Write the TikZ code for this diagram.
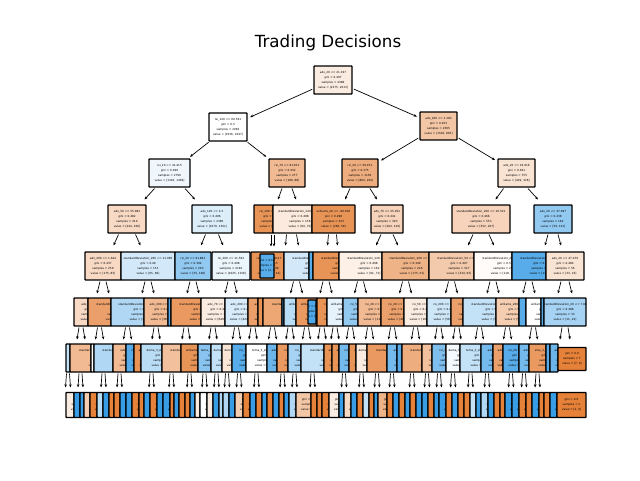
\documentclass[tikz,border=0pt]{standalone}
\usepackage{fontspec}
\setmainfont{DejaVu Sans}
\usetikzlibrary{arrows.meta}
\definecolor{skO}{HTML}{E58139}
\definecolor{skB}{HTML}{399DE5}
\tikzset{
  tbox/.style={draw, line width=1.3pt, rounded corners=0.6pt, inner sep=0pt, outer sep=0pt},
  ttext/.style={font=\fontsize{2.8}{5.1}\selectfont, align=center, inner sep=0pt},
  arr/.style={-{Stealth[length=3.2pt,width=2.6pt]}, line width=0.7pt},
  tarr/.style={arr, shorten <=2pt, shorten >=3.5pt},
}
% \tb{name}{x left}{x right}{y centre}{height}{fill}{half width of full box}{text}
\newcommand\tb[8]{%
  \pgfmathsetmacro\tbw{#3-#2}%
  \pgfmathsetmacro\tbx{(#2+#3)/2}%
  \pgfmathsetmacro\tbc{#2+max((#3-#2)/2,#7)}%
  \node[tbox,fill=#6,minimum width=\tbw pt,minimum height=#5 pt] (#1) at (\tbx,#4) {};
  \begin{scope}
    \clip (#2,#4-#5/2) rectangle (#3,#4+#5/2);
    \node[ttext] at (\tbc,#4) {#8};
  \end{scope}}
% two short arrows below a node: offset from centre, outward drift, length
\newcommand\kids[4]{%
  \draw[arr] ([xshift=-#2 pt, yshift=-1.5pt]#1.south) -- ++(-#3,#4);
  \draw[arr] ([xshift=#2 pt, yshift=-1.5pt]#1.south) -- ++(#3,#4);}
\begin{document}
\begin{tikzpicture}[x=1pt,y=-1pt]
\useasboundingbox (0,0) rectangle (640,480);
\node[font=\fontsize{16.7}{20}\selectfont] (title) at (328,43) {Trading Decisions};

% depth 0-2
\tb{r}{314}{352}{80}{28}{skO!15}{0}{adx\_20 <= 21.197\\gini = 0.497\\samples = 4388\\value = [2375, 2013]}
\tb{a}{209}{247}{127}{28}{white}{0}{rsi\_120 <= 69.591\\gini = 0.5\\samples = 2083\\value = [1036, 1047]}
\tb{b}{420}{457}{126}{28}{skO!45}{0}{adx\_200 <= 1.283\\gini = 0.453\\samples = 2305\\value = [1502, 803]}
\tb{aa}{149}{190}{173}{28}{skB!8}{0}{rsi\_20 <= 41.415\\gini = 0.499\\samples = 2790\\value = [1320, 1469]}
\tb{ab}{269}{305}{173}{28}{skO!55}{0}{rsi\_70 <= 61.452\\gini = 0.432\\samples = 277\\value = [189, 88]}
\tb{ba}{342}{378}{173}{28}{skO!65}{0}{rsi\_20 <= 59.072\\gini = 0.375\\samples = 1156\\value = [864, 292]}
\tb{bb}{498}{535}{173}{28}{skO!22}{0}{adx\_20 <= 19.916\\gini = 0.491\\samples = 755\\value = [429, 326]}

% depth 3
\tb{aaa}{108}{146}{219}{28}{skO!30}{0}{adx\_50 <= 55.983\\gini = 0.482\\samples = 410\\value = [244, 166]}
\tb{aab}{192}{232}{219}{28}{skB!17}{0}{adx\_120 <= 4.5\\gini = 0.496\\samples = 2380\\value = [1079, 1301]}
\tb{aba}{254}{273}{219}{28}{skO!85}{18}{rsi\_100 <= 38.27\\gini = 0.187\\samples = 121\\value = [108, 13]}
\tb{abb}{273}{312}{219}{28}{skO!17}{27}{standardDeviation\_120 <= 2.9\\gini = 0.498\\samples = 156\\value = [84, 72]}
\tb{baa}{312}{355}{219}{28}{skO!85}{0}{williams\_20 <= -96.018\\gini = 0.298\\samples = 325\\value = [266, 59]}
\tb{bab}{371}{403}{219}{28}{skO!35}{0}{adx\_70 <= 25.052\\gini = 0.441\\samples = 393\\value = [264, 129]}
\tb{bba}{452}{510}{219}{28}{skO!35}{0}{standardDeviation\_200 <= 10.521\\gini = 0.466\\samples = 553\\value = [352, 207]}
\tb{bbb}{534}{572}{219}{28}{skB!55}{0}{adx\_20 <= 37.697\\gini = 0.438\\samples = 182\\value = [59, 123]}

\draw[tarr] (r) -- (a);  \draw[tarr] (r) -- (b);
\draw[tarr] (a) -- (aa); \draw[tarr] (a) -- (ab);
\draw[tarr] (b) -- (ba); \draw[tarr] (b) -- (bb);
\draw[arr] ([xshift=-15pt,yshift=-1.5pt]aa.south) -- ++(-10,11);
\draw[arr] ([xshift=15.5pt,yshift=-1.5pt]aa.south) -- ++(10,11);
\draw[arr] ([xshift=-5pt,yshift=-1.5pt]ab.south) -- ++(-4,11);
\draw[arr] ([xshift=5pt,yshift=-1.5pt]ab.south) -- ++(4,11);
\draw[arr] ([xshift=-10pt,yshift=-1.5pt]ba.south) -- ++(-5,11);
\draw[arr] ([xshift=10pt,yshift=-1.5pt]ba.south) -- ++(7,11);
\draw[arr] ([xshift=-13pt,yshift=-1.5pt]bb.south) -- ++(-8,11);
\draw[arr] ([xshift=11.5pt,yshift=-1.5pt]bb.south) -- ++(10,11);

% depth 4
\foreach \i/\xa/\xb/\fillc/\rr/\txt in {
 1/85/121/{skO!30}/0/{adx\_200 <= 1.624\\gini = 0.437\\samples = 259\\value = [175, 83]},
 2/121/175/{skB!22}/0/{standardDeviation\_200 <= 11.085\\gini = 0.49\\samples = 151\\value = [65, 86]},
 3/175/211/{skB!55}/0/{rsi\_20 <= 61.882\\gini = 0.394\\samples = 203\\value = [55, 148]},
 4/212/250/{skB!10}/0/{rsi\_200 <= 11.563\\gini = 0.498\\samples = 2181\\value = [1025, 1156]},
 5/251/284/{skO!85}/18/{rsi\_100 <= 48.27\\gini = 0.213\\samples = 99\\value = [87, 12]},
 6/284/309/{skB!22}/30/{standardDeviation\_50 <= 4.12\\gini = 0.484\\samples = 88\\value = [36, 52]},
 7/309/313/{skB!85}/18/{rsi\_50 <= 22.1\\gini = 0.1\\samples = 19\\value = [1, 18]},
 8/313/339/{skO!85}/30/{standardDeviation\_20 <= 1.55\\gini = 0.15\\samples = 196\\value = [180, 16]},
 9/339/382/{skO!12}/30/{standardDeviation\_120 <= 3.2\\gini = 0.498\\samples = 162\\value = [91, 71]},
 10/382/429/{skO!60}/30/{standardDeviation\_200 <= 12.4\\gini = 0.349\\samples = 226\\value = [175, 51]},
 11/429/474/{skO!42}/30/{standardDeviation\_50 <= 1.14\\gini = 0.407\\samples = 327\\value = [234, 93]},
 12/474/512/{skO!3}/30/{standardDeviation\_200 <= 9.8\\gini = 0.5\\samples = 231\\value = [118, 113]},
 13/512/546/{skB!85}/30/{standardDeviation\_200 <= 6.1\\gini = 0.183\\samples = 127\\value = [13, 114]},
 14/546/584/{skO!22}/0/{adx\_20 <= 47.479\\gini = 0.484\\samples = 56\\value = [33, 23]}}
 {\tb{d4-\i}{\xa}{\xb}{266}{28}{\fillc}{\rr}{\txt}}
\tb{d4-x}{260}{274}{266}{24}{skB!85}{0}{gini = 0.18\\samples = 20\\value = [2, 18]}

\kids{aaa}{8.5}{5}{11}
\kids{aab}{6.5}{4.5}{11}
\draw[arr] ([xshift=-2pt,yshift=-1.5pt]aba.south east) -- ++(0,12);
\draw[arr] ([xshift=1pt,yshift=-1.5pt]aba.south east) -- ++(0,12);
\draw[arr] ([xshift=-6pt,yshift=-1.5pt]abb.south) -- ++(-1,11);
\draw[arr] ([xshift=4pt,yshift=-1.5pt]abb.south) -- ++(2,11);
\draw[arr] ([xshift=-5pt,yshift=-1.5pt]baa.south) -- ++(-1,11);
\draw[arr] ([xshift=3pt,yshift=-1.5pt]baa.south) -- ++(1,11);
\kids{bab}{6}{5}{11}
\kids{bba}{8}{5}{11}
\kids{bbb}{5}{3}{11}

% depth 5
\foreach \i/\xa/\xb/\fillc/\rr/\txt in {
 1/74/88/{skO!30}/18/{adx\_50 <= 3.1\\gini = 0.46\\samples = 120\\value = [77, 43]},
 2/88/111/{skO!75}/30/{standardDeviation\_50 <= 2.31\\gini = 0.32\\samples = 139\\value = [111, 28]},
 3/111/144/{skB!40}/30/{standardDeviation\_100 <= 9.62\\gini = 0.47\\samples = 96\\value = [36, 60]},
 4/144/168/{skO!55}/18/{adx\_200 <= 0.93\\gini = 0.43\\samples = 55\\value = [38, 17]},
 5/168/171/{skB!85}/18/{rsi\_20 <= 55.4\\gini = 0.2\\samples = 44\\value = [5, 39]},
 6/171/201/{skO!80}/30/{standardDeviation\_20 <= 0.84\\gini = 0.26\\samples = 65\\value = [55, 10]},
 7/201/225/{skO!15}/18/{adx\_70 <= 1.82\\gini = 0.497\\samples = 1203\\value = [649, 554]},
 8/225/248/{skB!20}/18/{adx\_200 <= 2.11\\gini = 0.491\\samples = 978\\value = [424, 554]},
 9/248/258/{skO!75}/18/{adx\_20 <= 17.3\\gini = 0.3\\samples = 60\\value = [49, 11]},
 10/258/263/{skO!85}/18/{adx\_50 <= 9.2\\gini = 0.1\\samples = 19\\value = [18, 1]},
 11/263/282/{skO!70}/30/{standardDeviation\_20 <= 3.5\\gini = 0.35\\samples = 40\\value = [31, 9]},
 12/282/284/{skB!85}/18/{rsi\_70 <= 40.2\\gini = 0.1\\samples = 19\\value = [1, 18]},
 13/284/296/{skB!35}/20/{williams\_50 <= -60.5\\gini = 0.48\\samples = 50\\value = [20, 30]},
 14/296/317/{skO!80}/20/{williams\_20 <= -88.4\\gini = 0.26\\samples = 38\\value = [32, 6]},
 15/317/327/{skO!85}/18/{rsi\_20 <= 33.7\\gini = 0.12\\samples = 100\\value = [94, 6]},
 16/327/343/{skB!12}/20/{williams\_100 <= -42.7\\gini = 0.499\\samples = 96\\value = [46, 50]},
 17/343/358/{skB!55}/18/{rsi\_50 <= 47.1\\gini = 0.41\\samples = 66\\value = [19, 47]},
 18/358/381/{skO!55}/18/{rsi\_20 <= 63.8\\gini = 0.42\\samples = 170\\value = [119, 51]},
 19/381/404/{skO!75}/18/{rsi\_20 <= 71.5\\gini = 0.29\\samples = 56\\value = [46, 10]},
 20/404/427/{skO!15}/18/{rsi\_50 <= 1.5\\gini = 0.495\\samples = 198\\value = [109, 89]},
 21/427/451/{skB!25}/18/{rsi\_200 <= 12.9\\gini = 0.49\\samples = 129\\value = [56, 73]},
 22/451/463/{skO!75}/18/{rsi\_70 <= 68.2\\gini = 0.3\\samples = 33\\value = [27, 6]},
 23/463/496/{skB!30}/30/{standardDeviation\_120 <= 4.4\\gini = 0.48\\samples = 140\\value = [56, 84]},
 24/496/519/{skO!40}/20/{williams\_200 <= -30.1\\gini = 0.46\\samples = 91\\value = [58, 33]},
 25/519/526/{skB!85}/18/{adx\_70 <= 12.6\\gini = 0.15\\samples = 86\\value = [7, 79]},
 26/526/541/{white}/20/{williams\_50 <= -20.8\\gini = 0.5\\samples = 41\\value = [20, 21]},
 27/541/544/{skB!85}/18/{adx\_20 <= 30.1\\gini = 0.1\\samples = 15\\value = [1, 14]},
 28/544/586/{skB!45}/0/{standardDeviation\_20 <= 7.04\\gini = 0.488\\samples = 33\\value = [11, 22]}}
 {\tb{d5-\i}{\xa}{\xb}{312}{28}{\fillc}{\rr}{\txt}}
\tb{d5-x}{308}{316}{312}{24}{skB!90}{0}{gini = 0.0\\samples = 4\\value = [0, 4]}

\foreach \i in {1,2,3,4,6,8,9,10,11,12,13}{\kids{d4-\i}{3}{3}{12}}
\kids{d4-14}{4}{3}{12}

% depth 6
\foreach \i/\xa/\xb/\fillc/\rr/\txt in {
 1/66/70/{skB!30}/16/{adx\_20 <= 9.1\\gini = 0.48\\samples = 30\\value = [12, 18]},
 2/70/91/{skO!55}/30/{standardDeviation\_50 <= 1.8\\gini = 0.42\\samples = 84\\value = [59, 25]},
 3/91/94/{white}/16/{rsi\_20 <= 50.2\\gini = 0.5\\samples = 36\\value = [18, 18]},
 4/94/113/{skB!40}/30/{standardDeviation\_100 <= 8.3\\gini = 0.47\\samples = 60\\value = [23, 37]},
 5/113/126/{skO!55}/18/{adx\_70 <= 6.4\\gini = 0.42\\samples = 47\\value = [33, 14]},
 6/126/134/{skB!85}/16/{rsi\_50 <= 29.1\\gini = 0.2\\samples = 13\\value = [1, 12]},
 7/134/141/{skO!85}/16/{adx\_20 <= 22.4\\gini = 0.1\\samples = 23\\value = [22, 1]},
 8/141/162/{skB!35}/22/{dema\_3\_slope <= 0.07\\gini = 0.48\\samples = 47\\value = [19, 28]},
 9/162/181/{skO!50}/30/{standardDeviation\_20 <= 0.62\\gini = 0.44\\samples = 52\\value = [35, 17]},
 10/181/198/{skO!85}/20/{williams\_20 <= -75.1\\gini = 0.13\\samples = 44\\value = [41, 3]},
 11/198/211/{skB!60}/18/{tema\_3\_slope <= 0.2\\gini = 0.38\\samples = 400\\value = [101, 299]},
 12/211/222/{skB!30}/18/{dema\_3\_slope <= 0.1\\gini = 0.48\\samples = 803\\value = [321, 482]},
 13/222/232/{skO!20}/18/{dema\_3\_slope <= 0.3\\gini = 0.49\\samples = 500\\value = [285, 215]},
 14/232/246/{skB!85}/18/{rsi\_70 <= 30.2\\gini = 0.2\\samples = 62\\value = [6, 56]},
 15/246/267/{white}/22/{tema\_3\_slope <= 0.01\\gini = 0.5\\samples = 416\\value = [208, 208]},
 16/267/277/{skB!75}/16/{adx\_20 <= 19.8\\gini = 0.3\\samples = 25\\value = [4, 21]},
 17/277/288/{skO!80}/18/{rsi\_50 <= 44.1\\gini = 0.26\\samples = 33\\value = [28, 5]},
 18/288/301/{skB!45}/18/{rsi\_20 <= 38.5\\gini = 0.46\\samples = 42\\value = [15, 27]},
 19/301/324/{skB!30}/30/{standardDeviation\_50 <= 5.7\\gini = 0.48\\samples = 58\\value = [23, 35]},
 20/324/332/{skO!85}/16/{adx\_50 <= 15.1\\gini = 0.1\\samples = 21\\value = [20, 1]},
 21/332/339/{skO!85}/16/{adx\_20 <= 11.2\\gini = 0.12\\samples = 31\\value = [29, 2]},
 22/339/349/{skB!70}/16/{rsi\_20 <= 20.4\\gini = 0.3\\samples = 18\\value = [3, 15]},
 23/349/356/{skO!85}/16/{adx\_70 <= 8.8\\gini = 0.1\\samples = 80\\value = [76, 4]},
 24/356/367/{skO!15}/18/{dema\_3\_slope <= 0.2\\gini = 0.49\\samples = 70\\value = [40, 30]},
 25/367/387/{skO!80}/30/{standardDeviation\_20 <= 2.2\\gini = 0.27\\samples = 100\\value = [84, 16]},
 26/387/397/{skB!70}/18/{adx\_50 <= 18.3\\gini = 0.31\\samples = 26\\value = [5, 21]},
 27/397/402/{skB!85}/16/{adx\_20 <= 29.1\\gini = 0.1\\samples = 19\\value = [1, 18]},
 28/402/422/{skO!65}/30/{standardDeviation\_120 <= 4.9\\gini = 0.37\\samples = 53\\value = [40, 13]},
 29/422/432/{skO!50}/18/{rsi\_50 <= 61.3\\gini = 0.44\\samples = 101\\value = [68, 33]},
 30/432/446/{skB!65}/18/{rsi\_20 <= 24.7\\gini = 0.35\\samples = 31\\value = [7, 24]},
 31/446/460/{skB!5}/18/{dema\_3\_slope <= 0.4\\gini = 0.5\\samples = 97\\value = [48, 49]},
 32/460/481/{skB!30}/22/{tema\_3\_slope <= 0.15\\gini = 0.48\\samples = 98\\value = [39, 59]},
 33/481/493/{skB!70}/18/{adx\_70 <= 20.5\\gini = 0.32\\samples = 42\\value = [8, 34]},
 34/493/503/{skO!75}/16/{adx\_50 <= 30.3\\gini = 0.3\\samples = 60\\value = [49, 11]},
 35/503/519/{skB!85}/16/{rsi\_20 <= 70.9\\gini = 0.2\\samples = 31\\value = [3, 28]},
 36/519/529/{skB!70}/16/{adx\_20 <= 21.6\\gini = 0.31\\samples = 47\\value = [9, 38]},
 37/529/546/{skO!80}/20/{sma\_3\_gap <= 0.02\\gini = 0.25\\samples = 34\\value = [29, 5]},
 38/546/550/{skB!85}/16/{rsi\_70 <= 52.2\\gini = 0.1\\samples = 19\\value = [1, 18]},
 39/550/558/{skB!75}/16/{adx\_50 <= 22.0\\gini = 0.24\\samples = 15\\value = [2, 13]}}
 {\tb{d6-\i}{\xa}{\xb}{358}{28}{\fillc}{\rr}{\txt}}
\tb{d6-x}{558}{586}{359}{23}{skO}{0}{gini = 0.0\\samples = 7\\value = [7, 0]}

\foreach \i in {1,2,3,4,6,7,8,9,11,13,14,15,16,17,18,19,20,21,22,23,24,26}{\kids{d5-\i}{2}{2}{12}}
\kids{d5-28}{3}{2}{12}

% depth 7 (leaves)
\foreach \i/\xa/\xb/\fillc/\txt in {
 1/66/74/{skO!15}/{gini = 0.49\\samples = 7\\value = [4, 3]},
 2/74/80/{skB}/{gini = 0.0\\samples = 2\\value = [0, 2]},
 3/80/84/{skB}/{gini = 0.0\\samples = 1\\value = [0, 1]},
 4/84/90/{skO!40}/{gini = 0.44\\samples = 3\\value = [2, 1]},
 5/90/97/{skO}/{gini = 0.0\\samples = 5\\value = [5, 0]},
 6/97/103/{skB!35}/{gini = 0.48\\samples = 5\\value = [2, 3]},
 7/103/109/{skB}/{gini = 0.0\\samples = 3\\value = [0, 3]},
 8/109/114/{skO}/{gini = 0.0\\samples = 2\\value = [2, 0]},
 9/114/120/{skO}/{gini = 0.0\\samples = 4\\value = [4, 0]},
 10/120/126/{skB}/{gini = 0.0\\samples = 1\\value = [0, 1]},
 11/126/132/{skB}/{gini = 0.0\\samples = 6\\value = [0, 6]},
 12/132/139/{skO}/{gini = 0.0\\samples = 2\\value = [2, 0]},
 13/139/144/{skO}/{gini = 0.0\\samples = 1\\value = [1, 0]},
 14/144/150/{skB}/{gini = 0.0\\samples = 3\\value = [0, 3]},
 15/150/157/{skO}/{gini = 0.0\\samples = 8\\value = [8, 0]},
 16/157/163/{skB}/{gini = 0.0\\samples = 2\\value = [0, 2]},
 17/163/170/{skB}/{gini = 0.0\\samples = 5\\value = [0, 5]},
 18/170/174/{skO}/{gini = 0.0\\samples = 1\\value = [1, 0]},
 19/174/179/{skB}/{gini = 0.0\\samples = 2\\value = [0, 2]},
 20/179/185/{skO}/{gini = 0.0\\samples = 3\\value = [3, 0]},
 21/185/190/{skO}/{gini = 0.0\\samples = 6\\value = [6, 0]},
 22/190/195/{skB}/{gini = 0.0\\samples = 1\\value = [0, 1]},
 23/195/200/{skO!15}/{gini = 0.49\\samples = 7\\value = [4, 3]},
 24/200/207/{white}/{gini = 0.5\\samples = 2\\value = [1, 1]},
 25/207/213/{skO!15}/{gini = 0.49\\samples = 9\\value = [5, 4]},
 26/213/219/{skB}/{gini = 0.0\\samples = 4\\value = [0, 4]},
 27/219/223/{skB!40}/{gini = 0.44\\samples = 3\\value = [1, 2]},
 28/223/229/{skB!40}/{gini = 0.44\\samples = 6\\value = [2, 4]},
 29/229/235/{skB}/{gini = 0.0\\samples = 2\\value = [0, 2]},
 30/235/243/{skO!40}/{gini = 0.44\\samples = 3\\value = [2, 1]},
 31/243/250/{skO}/{gini = 0.0\\samples = 5\\value = [5, 0]},
 32/250/256/{skB}/{gini = 0.0\\samples = 1\\value = [0, 1]},
 33/256/262/{skO}/{gini = 0.0\\samples = 3\\value = [3, 0]},
 34/262/267/{skB}/{gini = 0.0\\samples = 2\\value = [0, 2]},
 35/267/273/{skO}/{gini = 0.0\\samples = 4\\value = [4, 0]},
 36/273/279/{skB}/{gini = 0.0\\samples = 1\\value = [0, 1]},
 37/279/284/{skO}/{gini = 0.0\\samples = 2\\value = [2, 0]},
 38/284/289/{skB}/{gini = 0.0\\samples = 3\\value = [0, 3]},
 39/289/296/{skB!40}/{gini = 0.44\\samples = 3\\value = [1, 2]},
 40/296/311/{skO!45}/{gini = 0.408\\samples = 7\\value = [5, 2]},
 41/311/317/{skO}/{gini = 0.0\\samples = 6\\value = [6, 0]},
 42/317/322/{skO}/{gini = 0.0\\samples = 1\\value = [1, 0]},
 43/322/329/{skO}/{gini = 0.0\\samples = 3\\value = [3, 0]},
 44/329/339/{skO!15}/{gini = 0.494\\samples = 9\\value = [5, 4]},
 45/339/344/{skB}/{gini = 0.0\\samples = 2\\value = [0, 2]},
 46/344/351/{skO!30}/{gini = 0.48\\samples = 5\\value = [3, 2]},
 47/351/357/{skB}/{gini = 0.0\\samples = 1\\value = [0, 1]},
 48/357/363/{skO}/{gini = 0.0\\samples = 4\\value = [4, 0]},
 49/363/369/{skB!30}/{gini = 0.48\\samples = 5\\value = [2, 3]},
 50/369/374/{skO}/{gini = 0.0\\samples = 2\\value = [2, 0]},
 51/374/378/{skB}/{gini = 0.0\\samples = 1\\value = [0, 1]},
 52/378/387/{skO!60}/{gini = 0.375\\samples = 4\\value = [3, 1]},
 53/387/393/{skO}/{gini = 0.0\\samples = 3\\value = [3, 0]},
 54/393/399/{skB}/{gini = 0.0\\samples = 2\\value = [0, 2]},
 55/399/405/{skO}/{gini = 0.0\\samples = 5\\value = [5, 0]},
 56/405/410/{skB}/{gini = 0.0\\samples = 1\\value = [0, 1]},
 57/410/416/{skO}/{gini = 0.0\\samples = 2\\value = [2, 0]},
 58/416/422/{skB}/{gini = 0.0\\samples = 3\\value = [0, 3]},
 59/422/428/{skB}/{gini = 0.0\\samples = 1\\value = [0, 1]},
 60/428/434/{skO}/{gini = 0.0\\samples = 4\\value = [4, 0]},
 61/434/439/{skB}/{gini = 0.0\\samples = 2\\value = [0, 2]},
 62/439/446/{skB}/{gini = 0.0\\samples = 6\\value = [0, 6]},
 63/446/452/{skO}/{gini = 0.0\\samples = 1\\value = [1, 0]},
 64/452/458/{skB}/{gini = 0.0\\samples = 3\\value = [0, 3]},
 65/458/464/{skO}/{gini = 0.0\\samples = 2\\value = [2, 0]},
 66/464/470/{skO}/{gini = 0.0\\samples = 5\\value = [5, 0]},
 67/470/476/{skB!30}/{gini = 0.48\\samples = 5\\value = [2, 3]},
 68/476/481/{skB}/{gini = 0.0\\samples = 1\\value = [0, 1]},
 69/481/488/{skB!40}/{gini = 0.44\\samples = 3\\value = [1, 2]},
 70/488/494/{skB}/{gini = 0.0\\samples = 4\\value = [0, 4]},
 71/494/500/{skO}/{gini = 0.0\\samples = 2\\value = [2, 0]},
 72/500/505/{skO}/{gini = 0.0\\samples = 1\\value = [1, 0]},
 73/505/512/{skB}/{gini = 0.0\\samples = 3\\value = [0, 3]},
 74/512/519/{skB}/{gini = 0.0\\samples = 2\\value = [0, 2]},
 75/519/526/{skO}/{gini = 0.0\\samples = 6\\value = [6, 0]},
 76/526/532/{skO}/{gini = 0.0\\samples = 1\\value = [1, 0]},
 77/532/539/{skB}/{gini = 0.0\\samples = 2\\value = [0, 2]},
 78/539/544/{skO}/{gini = 0.0\\samples = 3\\value = [3, 0]},
 79/544/550/{skO}/{gini = 0.0\\samples = 1\\value = [1, 0]},
 80/550/557/{skB}/{gini = 0.0\\samples = 4\\value = [0, 4]},
 81/557/586/{skO}/{gini = 0.0\\samples = 2\\value = [2, 0]}}
 {\tb{d7-\i}{\xa}{\xb}{405}{25}{\fillc}{14.5}{\txt}}

\foreach \i in {1,2,4,5,8,9,10,11,12,13,14,15,17,18,19,22,24,25,26,28,29,30,31,32,33,35,36,37}{\kids{d6-\i}{1.5}{1}{14}}
\end{tikzpicture}
\end{document}
